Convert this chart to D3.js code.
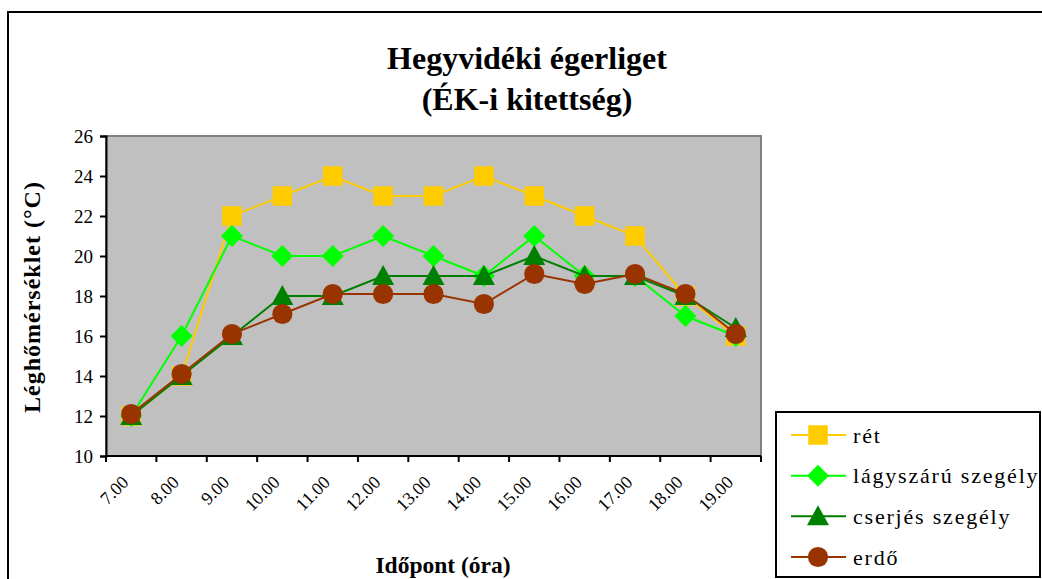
<!DOCTYPE html>
<html><head><meta charset="utf-8">
<script src="https://cdn.jsdelivr.net/npm/d3@7"></script>
<style>body{margin:0;background:#fff}svg{display:block}svg text{font-family:'Times New Roman','Liberation Serif',serif !important}</style>
</head><body><svg id="c" width="1042" height="579"></svg>
<script>
const categories = ["7.00","8.00","9.00","10.00","11.00","12.00","13.00","14.00","15.00","16.00","17.00","18.00","19.00"];
const ret = [12, 14, 22, 23, 24, 23, 23, 24, 23, 22, 21, 18, 16];
const lagyszaru = [12, 16, 21, 20, 20, 21, 20, 19, 21, 19, 19, 17, 16];
const cserjes = [12, 14, 16, 18, 18, 19, 19, 19, 20, 19, 19, 18, 16.4];
const erdo = [12.1, 14.1, 16.1, 17.1, 18.1, 18.1, 18.1, 17.6, 19.1, 18.6, 19.1, 18.1, 16.1];
const yTicks = [10, 12, 14, 16, 18, 20, 22, 24, 26];
const seriesNames = ["rét", "lágyszárú szegély", "cserjés szegély", "erdő"];

const series = [
  {name: seriesNames[0], values: ret, color: "#FFCC00", symbol: "square"},
  {name: seriesNames[1], values: lagyszaru, color: "#00FF00", symbol: "diamond"},
  {name: seriesNames[2], values: cserjes, color: "#008000", symbol: "triangle"},
  {name: seriesNames[3], values: erdo, color: "#993300", symbol: "circle"}
];
const FONT = "'Times New Roman', 'Liberation Serif', serif";

const svg = d3.select("#c").attr("font-family", FONT);
const L = 106, R = 761, T = 136, B = 456;

svg.append("rect").attr("x", 8).attr("y", 12).attr("width", 1050).attr("height", 580)
  .attr("fill", "#fff").attr("stroke", "#000").attr("stroke-width", 2);

const x = d3.scaleBand().domain(categories).range([L, R]);
const y = d3.scaleLinear().domain([10, 26]).range([B, T]);

svg.append("rect").attr("x", L).attr("y", T).attr("width", R - L).attr("height", B - T)
  .attr("fill", "#C0C0C0").attr("stroke", "#808080").attr("stroke-width", 2);

const ya = svg.append("g").attr("transform", `translate(${L},0)`)
  .call(d3.axisLeft(y).tickValues(yTicks).tickSize(6).tickPadding(7).tickFormat(d3.format("d")));
ya.attr("font-family", FONT);
ya.select(".domain").attr("stroke", "#000").attr("stroke-width", 2);
ya.selectAll(".tick line").attr("stroke", "#000").attr("stroke-width", 2);
ya.selectAll(".tick text").attr("font-size", 19).attr("fill", "#000");

const xa = svg.append("g").attr("transform", `translate(0,${B})`);
xa.append("line").attr("x1", L).attr("x2", R).attr("stroke", "#000").attr("stroke-width", 2);
const bounds = categories.map(c => x(c)).concat([x(categories[categories.length - 1]) + x.bandwidth()]);
xa.selectAll("line.tk").data(bounds).join("line").attr("class", "tk")
  .attr("x1", d => d).attr("x2", d => d).attr("y1", 0).attr("y2", 6)
  .attr("stroke", "#000").attr("stroke-width", 2);
xa.selectAll("text.lbl").data(categories).join("text").attr("class", "lbl")
  .attr("transform", d => `translate(${x(d) + x.bandwidth() / 2 - 6},${23}) rotate(-45)`)
  .attr("text-anchor", "end").attr("font-size", 18).attr("dy", "0.35em").text(d => d);

function symbolPath(type) {
  if (type === "square") return d3.symbol().type(d3.symbolSquare).size(380)();
  if (type === "diamond") return "M0,-11L11,0L0,11L-11,0Z";
  if (type === "triangle") return "M0,-11L11,9L-11,9Z";
  return d3.symbol().type(d3.symbolCircle).size(320)();
}

const line = d3.line().x((d, i) => x(categories[i]) + x.bandwidth() / 2).y(d => y(d));
series.forEach(s => {
  const g = svg.append("g");
  g.append("path").attr("d", line(s.values)).attr("fill", "none")
    .attr("stroke", s.color).attr("stroke-width", 2);
  g.selectAll("path.m").data(s.values).join("path").attr("class", "m")
    .attr("transform", (d, i) => `translate(${x(categories[i]) + x.bandwidth() / 2},${y(d)})`)
    .attr("d", symbolPath(s.symbol))
    .attr("fill", s.color);
});

svg.append("text").attr("x", 527).attr("y", 69).attr("text-anchor", "middle")
  .attr("font-size", 32).attr("font-weight", "bold").text("Hegyvidéki égerliget");
svg.append("text").attr("x", 527).attr("y", 110).attr("text-anchor", "middle")
  .attr("font-size", 32).attr("font-weight", "bold").text("(ÉK-i kitettség)");
svg.append("text").attr("transform", "translate(40,297) rotate(-90)").attr("text-anchor", "middle")
  .attr("font-size", 24).attr("font-weight", "bold").attr("letter-spacing", 1)
  .text("Léghőmérséklet (°C)");
svg.append("text").attr("x", 443).attr("y", 573).attr("text-anchor", "middle")
  .attr("font-size", 23.5).attr("font-weight", "bold").text("Időpont (óra)");

const lg = svg.append("g");
lg.append("rect").attr("x", 776).attr("y", 412).attr("width", 264).attr("height", 165)
  .attr("fill", "#fff").attr("stroke", "#000").attr("stroke-width", 2);
const ly = d3.scalePoint().domain(seriesNames).range([435, 557]);
series.forEach(s => {
  const yy = ly(s.name);
  lg.append("line").attr("x1", 791).attr("x2", 846).attr("y1", yy).attr("y2", yy)
    .attr("stroke", s.color).attr("stroke-width", 2);
  lg.append("path").attr("transform", `translate(818,${yy})`)
    .attr("d", symbolPath(s.symbol))
    .attr("fill", s.color);
  lg.append("text").attr("x", 853).attr("y", yy).attr("dy", "0.35em")
    .attr("font-size", 22).attr("letter-spacing", 1.8).text(s.name);
});
</script></body></html>
